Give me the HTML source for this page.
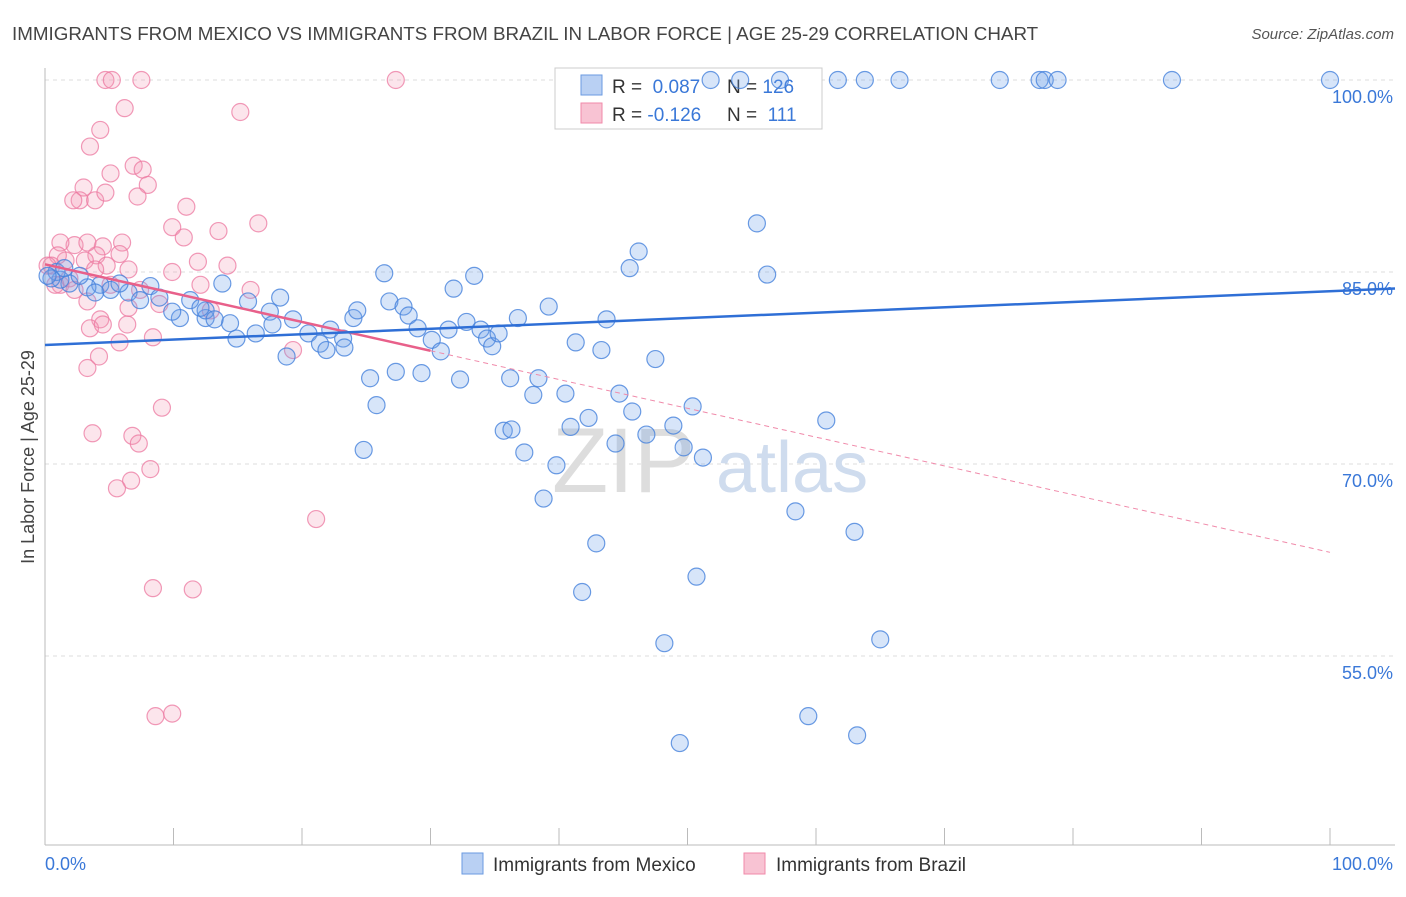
<!DOCTYPE html>
<html><head><meta charset="utf-8"><style>
body{margin:0;background:#fff;font-family:"Liberation Sans",sans-serif}
svg text{font-family:"Liberation Sans",sans-serif}
</style></head><body>
<svg width="1406" height="892" viewBox="0 0 1406 892">
<text x="12" y="40" font-size="18.8" fill="#444">IMMIGRANTS FROM MEXICO VS IMMIGRANTS FROM BRAZIL IN LABOR FORCE | AGE 25-29 CORRELATION CHART</text>
<text x="1394" y="39" font-size="15" fill="#555" text-anchor="end" font-style="italic">Source: ZipAtlas.com</text>
<text transform="translate(34,457) rotate(-90)" font-size="18" fill="#444" text-anchor="middle">In Labor Force | Age 25-29</text>
<g id="grid"></g>
<g id="wm">
<text x="552" y="492" font-size="92" fill="#ddd" font-family="Liberation Serif">ZIP</text>
<text x="716" y="492" font-size="72" fill="#cfdcee">atlas</text>
</g>
<g>
<rect x="555" y="68" width="267" height="61" fill="#fff" stroke="#ccc"/>
<rect x="581" y="75" width="21" height="20" fill="#b9d0f3" stroke="#6a9ae0"/>
<rect x="581" y="103" width="21" height="20" fill="#f8c3d3" stroke="#f08aaa"/>
<text x="612" y="93" font-size="19" fill="#333">R = <tspan fill="#3a78d8">&#160;0.087</tspan></text>
<text x="727" y="93" font-size="19" fill="#333">N = <tspan fill="#3a78d8">126</tspan></text>
<text x="612" y="121" font-size="19" fill="#333">R = <tspan fill="#3a78d8">-0.126</tspan></text>
<text x="727" y="121" font-size="19" fill="#333">N = <tspan fill="#3a78d8">&#160;111</tspan></text>
</g>
<g id="pts"></g>
<g id="lines"></g>
<g>
<rect x="462" y="853" width="21" height="21" fill="#b9d0f3" stroke="#6a9ae0"/>
<text x="493" y="871" font-size="19" fill="#333">Immigrants from Mexico</text>
<rect x="744" y="853" width="21" height="21" fill="#f8c3d3" stroke="#f08aaa"/>
<text x="776" y="871" font-size="19" fill="#333">Immigrants from Brazil</text>
</g>
<text x="45" y="870" font-size="18" fill="#3a78d8">0.0%</text>
<text x="1393" y="870" font-size="18" fill="#3a78d8" text-anchor="end">100.0%</text>
</svg>
<script>
const yTicks=[100,85,70,55];
const yTickLabels=["100.0%","85.0%","70.0%","55.0%"];
const mexX=[51.8,54.1,57.2,61.7,63.8,66.5,74.3,77.4,77.8,78.8,87.7,100,55.4,46.2,45.5,56.2,26.4,33.4,31.8,13.8,18.3,8.2,6.5,4.3,3.3,1.9,1.2,5.1,7.4,8.9,11.3,15.8,17.5,19.3,10.5,12.5,9.9,14.4,12.5,13.2,14.9,16.4,17.7,20.5,21.4,22.2,23.2,23.3,21.9,18.8,24.0,24.3,26.8,27.9,28.3,29.0,30.1,30.8,31.4,32.8,33.9,34.4,34.8,35.3,36.8,39.2,41.3,43.3,43.7,47.5,25.3,27.3,29.3,32.3,25.8,24.8,36.2,38.0,38.4,40.5,35.7,36.3,37.3,40.9,42.3,44.7,45.7,44.4,46.8,48.9,49.7,51.2,50.4,60.8,39.8,38.8,58.4,63.0,42.9,50.7,41.8,48.2,65.0,59.4,49.4,63.2,0.9,0.5,0.2,1.5,2.7,3.9,5.8,12.1];
const mexY=[100,100,100,100,100,100,100,100,100,100,100,100,88.8,86.6,85.3,84.8,84.9,84.7,83.7,84.1,83.0,83.9,83.4,84.0,83.8,84.1,84.4,83.6,82.8,83.0,82.8,82.7,81.9,81.3,81.4,81.4,81.9,81.0,82.0,81.3,79.8,80.2,80.9,80.2,79.4,80.5,79.8,79.1,78.9,78.4,81.4,82.0,82.7,82.3,81.6,80.6,79.7,78.8,80.5,81.1,80.5,79.8,79.2,80.2,81.4,82.3,79.5,78.9,81.3,78.2,76.7,77.2,77.1,76.6,74.6,71.1,76.7,75.4,76.7,75.5,72.6,72.7,70.9,72.9,73.6,75.5,74.1,71.6,72.3,73.0,71.3,70.5,74.5,73.4,69.9,67.3,66.3,64.7,63.8,61.2,60.0,56.0,56.3,50.3,48.2,48.8,85.0,84.5,84.7,85.3,84.7,83.4,84.1,82.2];
const braX=[4.7,5.2,7.5,27.3,15.2,6.2,4.3,3.5,6.9,7.6,5.1,8.0,3.0,2.7,3.9,2.2,4.7,7.2,11.0,9.9,13.5,16.6,10.8,2.3,1.2,1.6,6.0,4.5,4.0,3.3,1.0,0.5,5.8,4.8,9.9,11.9,14.2,16.0,12.1,6.5,5.1,7.4,3.3,6.5,8.9,4.3,3.5,4.5,6.4,5.8,8.4,4.2,3.3,9.1,3.7,6.8,7.3,8.2,6.7,5.6,12.9,19.3,21.1,8.4,11.5,8.6,9.9,1.2,1.9,3.1,0.2,0.8,2.3,3.9];
const braY=[100,100,100,100,97.5,97.8,96.1,94.8,93.3,93.0,92.7,91.8,91.6,90.6,90.6,90.6,91.2,90.9,90.1,88.5,88.2,88.8,87.7,87.1,87.3,85.9,87.3,87.0,86.3,87.3,86.3,85.5,86.4,85.5,85.0,85.8,85.5,83.6,84.0,85.2,84.0,83.6,82.7,82.2,82.5,81.3,80.6,80.9,80.9,79.5,79.9,78.4,77.5,74.4,72.4,72.2,71.6,69.6,68.7,68.1,82.0,78.9,65.7,60.3,60.2,50.3,50.5,84.0,84.5,85.9,85.5,84.0,83.6,85.2];
const mexTrend=[79.3,83.5];
const braTrend=[85.6,63.1];
const braSolidEnd=30;
const NS="http://www.w3.org/2000/svg";
const X0=45,X1=1330,Y100=80,PXPER=12.8;
function sx(v){return X0+(X1-X0)*v/100}
function sy(v){return Y100+(100-v)*PXPER}
function mk(t,a,p){const e=document.createElementNS(NS,t);for(const k in a)e.setAttribute(k,a[k]);p.appendChild(e);return e}
const grid=document.getElementById('grid');
yTicks.forEach((t,i)=>{
 const l=mk('line',{x1:45,x2:1395,y1:sy(t),y2:sy(t),stroke:'#ddd','stroke-dasharray':'4,4'},grid);
 
 
 const tx=mk('text',{x:1393,y:sy(t)+23,'font-size':18,fill:'#3a78d8','text-anchor':'end'},grid);
 tx.textContent=yTickLabels[i];
 
 
});
let ax=mk('line',{x1:45,x2:1395,y1:845,y2:845,stroke:'#bbb'},grid);


let ay=mk('line',{x1:45,x2:45,y1:68,y2:845,stroke:'#bbb'},grid);


for(let i=0;i<=10;i++){
 const tk=mk('line',{x1:sx(i*10),x2:sx(i*10),y1:828,y2:845,stroke:'#bbb'},grid);
 
 
}
const pts=document.getElementById('pts');
braX.forEach((v,i)=>{
 const c=mk('circle',{cx:sx(v),cy:sy(braY[i]),r:8.5,fill:'rgba(244,150,180,0.25)',stroke:'rgba(236,120,160,0.75)','stroke-width':1.2},pts);
 
 
});
mexX.forEach((v,i)=>{
 const c=mk('circle',{cx:sx(v),cy:sy(mexY[i]),r:8.5,fill:'rgba(110,160,235,0.28)',stroke:'rgba(70,130,220,0.8)','stroke-width':1.2},pts);
 
 
});
const lines=document.getElementById('lines');
const bs=(v)=>braTrend[0]+(braTrend[1]-braTrend[0])*v/100;
let l1=mk('line',{x1:sx(braSolidEnd),y1:sy(bs(braSolidEnd)),x2:sx(100),y2:sy(bs(100)),stroke:'#f08aaa','stroke-width':1,'stroke-dasharray':'5,4'},lines);


let l2=mk('line',{x1:sx(0),y1:sy(bs(0)),x2:sx(braSolidEnd),y2:sy(bs(braSolidEnd)),stroke:'#e8608a','stroke-width':2.5},lines);


const ms=(v)=>mexTrend[0]+(mexTrend[1]-mexTrend[0])*v/100;
let l3=mk('line',{x1:sx(0),y1:sy(ms(0)),x2:1395,y2:sy(ms((1395-X0)/(X1-X0)*100)),stroke:'#2f6fd6','stroke-width':2.5},lines);


</script>
</body></html>
